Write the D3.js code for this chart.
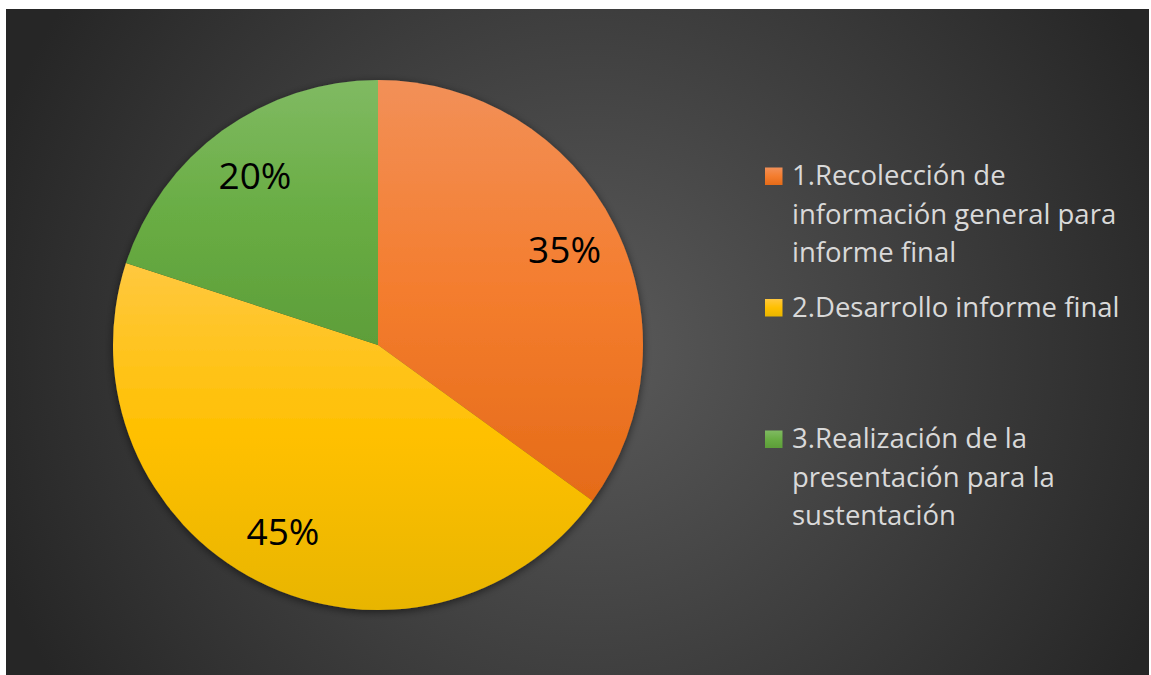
<!DOCTYPE html>
<html>
<head>
<meta charset="utf-8">
<script src="https://cdn.jsdelivr.net/npm/d3@7"></script>
<style>
    html, body { margin: 0; padding: 0; background: #ffffff; }
    svg { display: block; }
</style>
</head>
<body>
<div id="chart"></div>
<script>
// datos del gráfico
var categories = [
    ['1.Recolección de', 'información general para', 'informe final'],
    ['2.Desarrollo informe final'],
    ['3.Realización de la', 'presentación para la', 'sustentación']
];
var values = [35, 45, 20];
var labels = ['35%', '45%', '20%'];
// colores: claro arriba, medio, oscuro abajo
var colorsTop = ['#f29058', '#ffc83f', '#80ba62'];
var colorsMid = ['#f47d2e', '#ffc000', '#69ad44'];
var colorsBottom = ['#e56b18', '#e8b500', '#5d9e39'];

var width = 1151, height = 675;
var svg = d3.select('#chart').append('svg')
    .attr('width', width)
    .attr('height', height);
var defs = svg.append('defs');

// fondo con degradado radial
var bg = defs.append('radialGradient')
    .attr('id', 'bg')
    .attr('gradientUnits', 'userSpaceOnUse')
    .attr('cx', 590).attr('cy', 350).attr('r', 630);
bg.append('stop').attr('offset', '0%').attr('stop-color', '#5a5a5a');
bg.append('stop').attr('offset', '100%').attr('stop-color', '#262626');

svg.append('rect')
    .attr('x', 6).attr('y', 9)
    .attr('width', 1143).attr('height', 666)
    .attr('fill', 'url(#bg)');

// degradado vertical por sector
values.forEach(function (v, i) {
    var g = defs.append('linearGradient')
        .attr('id', 'grad' + i)
        .attr('x1', 0).attr('y1', 0).attr('x2', 0).attr('y2', 1);
    g.append('stop').attr('offset', '0%').attr('stop-color', colorsTop[i]);
    g.append('stop').attr('offset', '50%').attr('stop-color', colorsMid[i]);
    g.append('stop').attr('offset', '100%').attr('stop-color', colorsBottom[i]);
});

// sombra del pastel
var shadow = defs.append('filter')
    .attr('id', 'shadow')
    .attr('x', '-10%').attr('y', '-10%').attr('width', '120%').attr('height', '120%');
shadow.append('feDropShadow')
    .attr('dx', 0).attr('dy', 2)
    .attr('stdDeviation', 4)
    .attr('flood-color', '#000')
    .attr('flood-opacity', 0.55);

var cx = 378, cy = 345, radius = 265;
var pie = d3.pie().sort(null).value(function (d) { return d; });
var arc = d3.arc().innerRadius(0).outerRadius(radius);
var labelArc = d3.arc().innerRadius(radius * 0.79).outerRadius(radius * 0.79);
var arcs = pie(values);

var g = svg.append('g').attr('transform', 'translate(' + cx + ',' + cy + ')');

g.append('g')
    .attr('filter', 'url(#shadow)')
    .selectAll('path')
    .data(arcs)
    .enter()
    .append('path')
    .attr('d', arc)
    .attr('fill', function (d, i) { return 'url(#grad' + i + ')'; });

// etiquetas de porcentaje
g.selectAll('text.pct')
    .data(arcs)
    .enter()
    .append('text')
    .attr('class', 'pct')
    .attr('transform', function (d) { return 'translate(' + labelArc.centroid(d) + ')'; })
    .attr('dy', '0.36em')
    .attr('text-anchor', 'middle')
    .attr('font-family', 'Open Sans')
    .attr('font-size', 37)
    .attr('fill', '#000')
    .text(function (d, i) { return labels[i]; });

// leyenda
var legendY = d3.scaleLinear().domain([0, 1]).range([185, 316.5]);
var legend = svg.append('g').attr('transform', 'translate(765,0)');
var item = legend.selectAll('g')
    .data(categories)
    .enter()
    .append('g')
    .attr('transform', function (d, i) { return 'translate(0,' + legendY(i) + ')'; });

item.append('rect')
    .attr('x', 0).attr('y', -17.5)
    .attr('width', 17.5).attr('height', 17.5)
    .attr('fill', function (d, i) { return 'url(#grad' + i + ')'; });

item.append('text')
    .attr('font-family', 'Open Sans')
    .attr('font-size', 27.5)
    .attr('fill', '#d9d9d9')
    .selectAll('tspan')
    .data(function (d) { return d; })
    .enter()
    .append('tspan')
    .attr('x', 27)
    .attr('y', function (d, j) { return j * 38.5; })
    .text(function (d) { return d; });
</script>
</body>
</html>
